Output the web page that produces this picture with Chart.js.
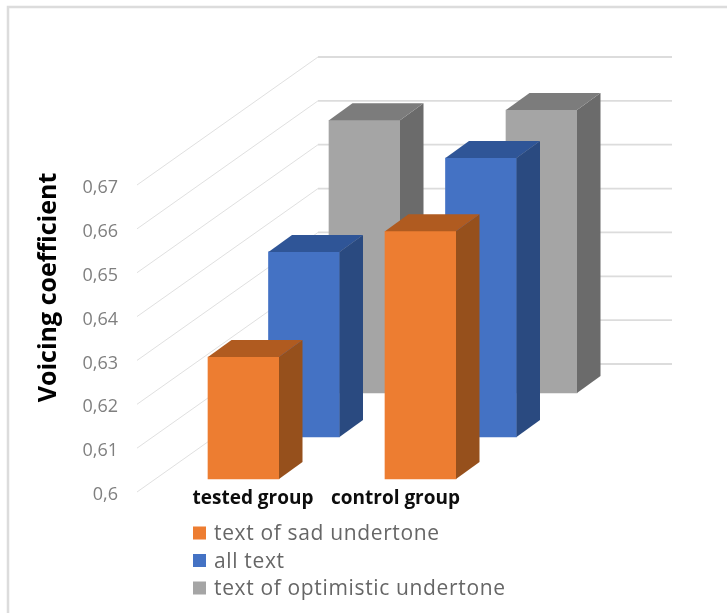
<!DOCTYPE html>
<html>
<head>
<meta charset="utf-8">
<style>
  html, body { margin: 0; padding: 0; background: #fff; }
  canvas { display: block; }
</style>
<script src="https://cdn.jsdelivr.net/npm/chart.js@4"></script>
</head>
<body>
<canvas id="chart" width="727" height="613"></canvas>
<script>
const categories = ["tested group", "control group"];
const sadValues = [0.6278, 0.6565];
const allTextValues = [0.6422, 0.6636];
const optimisticValues = [0.6622, 0.6645];
const tickLabels = ["0,6", "0,61", "0,62", "0,63", "0,64", "0,65", "0,66", "0,67"];
const seriesNames = ["text of sad undertone", "all text", "text of optimistic undertone"];
const axisTitle = "Voicing coefficient";

const FRONT = ["#ED7D31", "#4472C4", "#A5A5A5"];
const TOPS = ["#B05B20", "#2F5597", "#7C7C7C"];
const SIDES = ["#96501C", "#2A4A80", "#6B6B6B"];

// each series sits one row further back on the floor
const ROW_SHIFT = [[18, -13], [78.5, -55], [139, -99]];
const BAR_DX = 23.5;
const BAR_DY = 17;
const FONT = "'Open Sans', sans-serif";

const frame = {
  id: "frame",
  beforeDraw(chart) {
    const { ctx } = chart;
    ctx.save();
    ctx.fillStyle = "#fff";
    ctx.fillRect(0, 0, chart.width, chart.height);
    ctx.strokeStyle = "#DCDCDC";
    ctx.lineWidth = 2.5;
    ctx.beginPath();
    ctx.moveTo(8, 613);
    ctx.lineTo(8, 7);
    ctx.lineTo(727, 7);
    ctx.stroke();
    ctx.restore();
  },
};

const walls = {
  id: "walls",
  beforeDatasetsDraw(chart) {
    const { ctx, scales: { y }, chartArea } = chart;
    ctx.save();
    y.ticks.forEach(t => {
      const py = y.getPixelForValue(t.value);
      ctx.strokeStyle = "#E0E0E0";
      ctx.lineWidth = 1;
      ctx.beginPath();
      ctx.moveTo(chartArea.left, py);
      ctx.lineTo(chartArea.left + 181, py - 128);
      ctx.stroke();
      ctx.strokeStyle = "#DCDCDC";
      ctx.lineWidth = 1.8;
      ctx.beginPath();
      ctx.moveTo(chartArea.left + 181, py - 128);
      ctx.lineTo(672, py - 128);
      ctx.stroke();
    });
    ctx.restore();
  },
};

const bars3d = {
  id: "bars3d",
  beforeDatasetDraw(chart, args) {
    const [dx, dy] = ROW_SHIFT[args.index];
    chart.ctx.save();
    chart.ctx.translate(dx, dy);
  },
  afterDatasetDraw(chart, args) {
    const { ctx } = chart;
    args.meta.data.forEach(bar => {
      const left = bar.x - bar.width / 2;
      const right = bar.x + bar.width / 2;
      ctx.fillStyle = SIDES[args.index];
      ctx.beginPath();
      ctx.moveTo(right, bar.y);
      ctx.lineTo(right + BAR_DX, bar.y - BAR_DY);
      ctx.lineTo(right + BAR_DX, bar.base - BAR_DY);
      ctx.lineTo(right, bar.base);
      ctx.closePath();
      ctx.fill();
      ctx.fillStyle = TOPS[args.index];
      ctx.beginPath();
      ctx.moveTo(left, bar.y);
      ctx.lineTo(left + BAR_DX, bar.y - BAR_DY);
      ctx.lineTo(right + BAR_DX, bar.y - BAR_DY);
      ctx.lineTo(right, bar.y);
      ctx.closePath();
      ctx.fill();
    });
    ctx.restore();
  },
};

// category labels do not sit under the bars in the original
const LABEL_SHIFT = [27.5, -7];
const outerText = {
  id: "outerText",
  afterDraw(chart) {
    const { ctx, scales: { x } } = chart;
    ctx.save();
    ctx.textBaseline = "middle";
    ctx.textAlign = "center";
    ctx.fillStyle = "#0D0D0D";
    ctx.font = `bold 19px ${FONT}`;
    categories.forEach((name, i) => {
      ctx.fillText(name, x.getPixelForValue(i) + LABEL_SHIFT[i], 499);
    });
    ctx.textAlign = "left";
    ctx.font = `21px ${FONT}`;
    ctx.letterSpacing = "0.65px";
    chart.data.datasets.forEach((ds, i) => {
      const rowY = 533 + i * 27.5;
      ctx.fillStyle = FRONT[i];
      ctx.fillRect(193, rowY - 6.5, 13, 13);
      ctx.fillStyle = "#666";
      ctx.fillText(ds.label, 214, rowY + 1.5);
    });
    ctx.letterSpacing = "0px";
    // axis title is off-centre from the axis, so not the native scale title
    ctx.translate(56, 287.5);
    ctx.rotate(-Math.PI / 2);
    ctx.textAlign = "center";
    ctx.textBaseline = "alphabetic";
    ctx.fillStyle = "#000";
    ctx.font = `bold 25px ${FONT}`;
    ctx.fillText(axisTitle, 0, 0);
    ctx.restore();
  },
};

new Chart(document.getElementById("chart"), {
  type: "bar",
  data: {
    labels: categories,
    datasets: [sadValues, allTextValues, optimisticValues].map((values, i) => ({
      label: seriesNames[i],
      data: values,
      base: 0.6,
      backgroundColor: FRONT[i],
      borderWidth: 0,
      grouped: false,
      barThickness: 71,
      clip: false,
    })),
  },
  options: {
    responsive: false,
    animation: false,
    layout: { padding: { left: 0, right: 236, top: 185, bottom: 121 } },
    plugins: { legend: { display: false }, tooltip: { enabled: false } },
    scales: {
      x: { display: false },
      y: {
        min: 0.6,
        max: 0.67,
        afterFit: s => { s.width = 137; },
        grid: { display: false, drawTicks: false },
        border: { display: false },
        ticks: {
          stepSize: 0.01,
          padding: 19,
          labelOffset: 3,
          color: "#7F7F7F",
          font: { family: FONT, size: 18 },
          callback: (v, i) => tickLabels[i],
        },
      },
    },
  },
  plugins: [frame, walls, bars3d, outerText],
});
</script>
</body>
</html>
